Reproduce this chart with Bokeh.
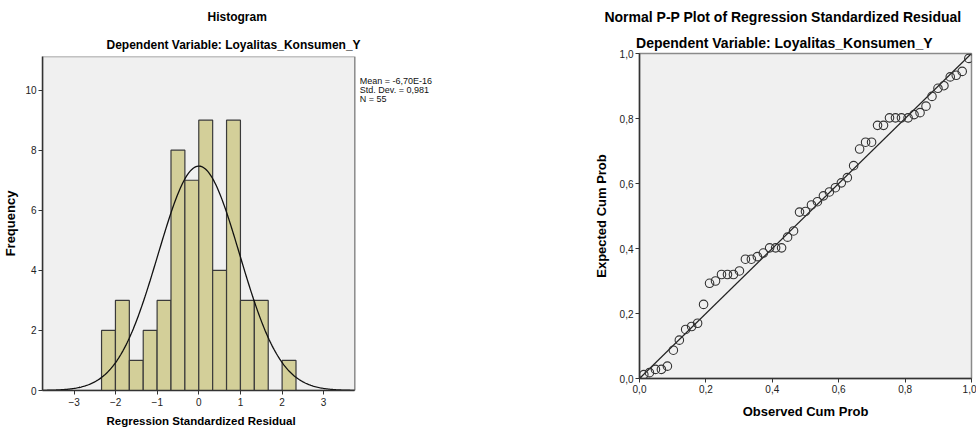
import numpy as np
from bokeh.plotting import figure
from bokeh.layouts import row, column
from bokeh.models import FixedTicker, ColumnDataSource, Title, Range1d
from bokeh.core.properties import value
from bokeh.embed import file_html
from bokeh.resources import INLINE

# ---------------- data ----------------
BIN_EDGES = [-2.340, -2.006, -1.672, -1.338, -1.004, -0.670, -0.336, -0.002,
             0.332, 0.666, 1.000, 1.334, 1.668, 2.002, 2.336]
BIN_COUNTS = [2, 3, 1, 2, 3, 8, 7, 9, 4, 9, 3, 3, 0, 1]
MEAN = -6.70e-16
STD_DEV = 0.981
N = 55

OBS_CUM_PROB = [0.013, 0.030, 0.048, 0.066, 0.084, 0.102, 0.120, 0.139, 0.157, 0.175,
                0.193, 0.211, 0.229, 0.247, 0.265, 0.283, 0.301, 0.319, 0.337, 0.355,
                0.373, 0.392, 0.410, 0.428, 0.446, 0.464, 0.482, 0.500, 0.518, 0.536,
                0.554, 0.572, 0.590, 0.608, 0.626, 0.645, 0.663, 0.681, 0.699, 0.717,
                0.735, 0.753, 0.771, 0.789, 0.809, 0.827, 0.845, 0.863, 0.881, 0.899,
                0.917, 0.936, 0.954, 0.972, 0.992]
EXP_CUM_PROB = [0.012, 0.018, 0.028, 0.028, 0.038, 0.087, 0.118, 0.151, 0.160, 0.170,
                0.228, 0.293, 0.300, 0.320, 0.320, 0.320, 0.331, 0.367, 0.367, 0.375,
                0.386, 0.402, 0.402, 0.402, 0.435, 0.454, 0.512, 0.514, 0.534, 0.544,
                0.562, 0.574, 0.587, 0.602, 0.618, 0.655, 0.706, 0.727, 0.727, 0.779,
                0.779, 0.802, 0.802, 0.802, 0.802, 0.812, 0.818, 0.838, 0.868, 0.893,
                0.901, 0.928, 0.933, 0.945, 0.985]
REF_LINE = [0.0, 1.0]

HIST_XTICKS = [-3, -2, -1, 0, 1, 2, 3]
HIST_YTICKS = [0, 2, 4, 6, 8, 10]
PP_TICKS = [0.0, 0.2, 0.4, 0.6, 0.8, 1.0]
PP_TICK_LABELS = ["0,0", "0,2", "0,4", "0,6", "0,8", "1,0"]
STATS_LINES = ["Mean = -6,70E-16", "Std. Dev. = 0,981", "N = 55"]

# histogram plot-area extent (axis range)
H_XMIN, H_XMAX = -3.76, 3.75
H_YMAX = 11.12

FONT = "Liberation Sans"
BG = "#f0f0f0"
BAR = "#d3cf99"
DARK = "#333333"
EDGE = "#8a8a8a"


def style_axes(p):
    p.border_fill_color = "white"
    p.xgrid.visible = False
    p.ygrid.visible = False
    for ax in (p.xaxis[0], p.yaxis[0]):
        ax.axis_line_color = DARK
        ax.axis_line_width = 1.5
        ax.major_tick_line_color = DARK
        ax.major_tick_in = 0
        ax.major_tick_out = 4
        ax.minor_tick_line_color = None
        ax.major_label_text_font = FONT
        ax.major_label_text_font_size = "10px"
        ax.major_label_text_color = "#222222"
        ax.major_label_standoff = 2
        ax.axis_label_text_font = FONT
        ax.axis_label_text_font_size = "12px"
        ax.axis_label_text_font_style = "bold"
        ax.axis_label_text_color = "black"


def make_title(text, align, offset, standoff, size):
    return Title(text=text, align=align, offset=offset, standoff=standoff,
                 text_font=FONT, text_font_size=size, text_font_style="bold",
                 text_color="black")


# ---------------- histogram ----------------
# frame spans 41..488 px; the data area (-3.76..3.75) occupies 41..354 px
x_end = H_XMIN + (H_XMAX - H_XMIN) * (488 - 41) / (354 - 41)
p1 = figure(width=488, height=432, x_range=Range1d(H_XMIN, x_end),
            y_range=Range1d(0, H_YMAX),
            output_backend="svg", toolbar_location=None,
            min_border_left=41, min_border_right=0,
            min_border_top=0, min_border_bottom=42)
style_axes(p1)
p1.background_fill_color = "white"
p1.outline_line_color = None
p1.quad(left=[H_XMIN], right=[H_XMAX], bottom=[0], top=[H_YMAX],
        fill_color=BG, line_color=EDGE, line_width=1.5)
hist_src = ColumnDataSource(dict(left=BIN_EDGES[:-1], right=BIN_EDGES[1:],
                                 top=BIN_COUNTS, bottom=[0] * len(BIN_COUNTS)))
p1.quad(left="left", right="right", top="top", bottom="bottom", source=hist_src,
        fill_color=BAR, line_color="#3a3a3a", line_width=1.2)
bin_width = BIN_EDGES[1] - BIN_EDGES[0]
xs = np.linspace(H_XMIN, H_XMAX, 300)
ys = N * bin_width * np.exp(-0.5 * ((xs - MEAN) / STD_DEV) ** 2) / (STD_DEV * np.sqrt(2 * np.pi))
p1.line(xs, ys, line_color="#111111", line_width=1.3)
p1.xaxis.bounds = (H_XMIN, H_XMAX)
p1.xaxis.ticker = FixedTicker(ticks=HIST_XTICKS)
p1.yaxis.ticker = FixedTicker(ticks=HIST_YTICKS)
p1.yaxis.axis_label = "Frequency"
p1.yaxis.axis_label_text_font_size = "13px"
p1.xaxis.major_label_standoff = 3
p1.yaxis.axis_label_standoff = 4
p1.add_layout(make_title("Regression Standardized Residual", "left", 64, 8, "11.5px"), "below")
p1.add_layout(make_title("Dependent Variable: Loyalitas_Konsumen_Y", "left", 64, 10, "12px"), "above")
p1.add_layout(make_title("Histogram", "left", 165, 14, "12px"), "above")

# stats text just right of the plot area, aligned with the top of the y axis
stat_x = H_XMAX + 0.12
stat_y = [10.32, 10.0, 9.69]
p1.text(x=[stat_x] * 3, y=stat_y, text=STATS_LINES,
        text_font=value(FONT), text_font_size="9px", text_color="#111111",
        text_align="left", text_baseline="middle")

# ---------------- P-P plot ----------------
p2 = figure(width=488, height=432, x_range=(0, 1), y_range=(0, 1),
            output_backend="svg", toolbar_location=None,
            min_border_left=151, min_border_right=5,
            min_border_top=0, min_border_bottom=54)
style_axes(p2)
p2.background_fill_color = BG
p2.outline_line_color = EDGE
p2.outline_line_width = 1.5
p2.line(REF_LINE, REF_LINE, line_color="#222222", line_width=1.2)
p2.scatter(OBS_CUM_PROB, EXP_CUM_PROB, marker="circle", size=8.5,
           fill_alpha=0, line_color="#333333", line_width=1.1)
p2.xaxis.ticker = FixedTicker(ticks=PP_TICKS)
p2.yaxis.ticker = FixedTicker(ticks=PP_TICKS)
p2.xaxis.major_label_overrides = {t: l for t, l in zip(PP_TICKS, PP_TICK_LABELS)}
p2.yaxis.major_label_overrides = {t: l for t, l in zip(PP_TICKS, PP_TICK_LABELS)}
p2.xaxis.axis_label = "Observed Cum Prob"
p2.yaxis.axis_label = "Expected Cum Prob"
p2.xaxis.axis_label_text_font_size = "13px"
p2.yaxis.axis_label_text_font_size = "13px"
p2.xaxis.axis_label_standoff = 8
p2.yaxis.axis_label_standoff = 8
p2.add_layout(make_title("Dependent Variable: Loyalitas_Konsumen_Y", "right", 39, 5, "14px"), "above")
p2.add_layout(make_title("Normal P-P Plot of Regression Standardized Residual", "right", 10, 12, "14px"), "above")

layout = row(column(p1), column(p2))
open("out.html", "w").write(file_html(layout, INLINE))
